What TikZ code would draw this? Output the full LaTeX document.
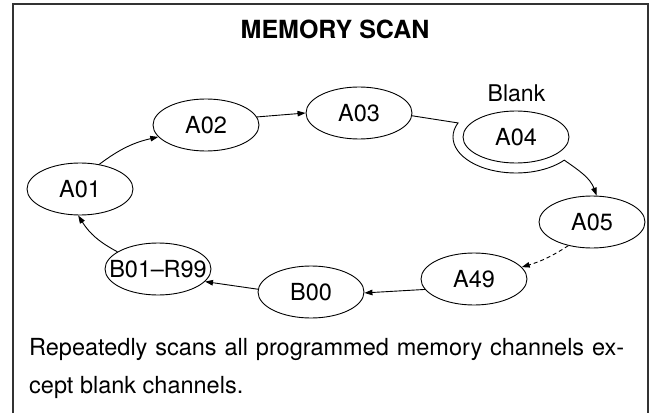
\documentclass[tikz,border=0pt]{standalone}
\usepackage{fontspec}
\setmainfont{TeX Gyre Heros}
\usetikzlibrary{arrows.meta,calc,shapes.geometric}
\begin{document}
\begin{tikzpicture}[x=1pt,y=1pt,
  ch/.style={ellipse,draw,line width=0.9pt,minimum width=106pt,minimum height=52pt,inner sep=0pt,font=\fontsize{23.5}{28}\selectfont},
  conn/.style={line width=0.9pt,-{Triangle[length=8pt,width=5.5pt]}},
  bodytext/.style={anchor=base west,inner sep=0pt,font=\fontsize{23.5}{28}\selectfont},
  frameline/.style={line width=1.4pt,draw=black!80}]
\useasboundingbox (0,0) rectangle (658,413);
\draw[frameline] (13,0) -- (13,409) -- (648,409) -- (648,0);
\node[anchor=base,inner sep=0pt,font=\fontsize{25}{30}\selectfont\bfseries] (title) at (335,374) {MEMORY SCAN};
\node[ch] (a01) at (80,224) {A01};
\node[ch] (a02) at (206,288) {A02};
\node[ch] (a03) at (359,300) {A03};
\node[ch] (a04) at (516,276) {A04};
\node[anchor=base,inner sep=0pt,font=\fontsize{23}{27}\selectfont] (blank) at (516.5,311.5) {Blank};
\node[ch] (a05) at (592,191) {A05};
\node[ch] (a49) at (474,134) {A49};
\node[ch] (b00) at (311,121) {B00};
\node[ch] (b01) at (158,144) {\makebox[0pt]{B01\kern-0.3pt–\kern-0.3pt R99}};
\coordinate (skipstart) at ($(a04.center)+(157:63pt and 36pt)$);
\draw[conn] (a01.52) to[bend left=12] (a02.194);
\draw[conn] (a02.9) -- (a03.180);
\draw[conn] (a03.-3) -- (skipstart) arc[start angle=157,end angle=320,x radius=63pt,y radius=36pt] to[out=-35,in=110] (a05.80);
\draw[conn,dash pattern=on 4pt off 3pt] (a05.225) to[bend left=8] (a49.14);
\draw[conn] (a49.192) -- (b00.-1);
\draw[conn] (b00.177) -- (b01.-15);
\draw[conn] (b01.157) to[bend left=15] (a01.266);
\node[bodytext] (line1) at (29,58) {\makebox[595pt][s]{Repeatedly scans all programmed memory channels ex-}};
\node[bodytext] (line2) at (29,20) {cept blank channels.};
\end{tikzpicture}
\end{document}
